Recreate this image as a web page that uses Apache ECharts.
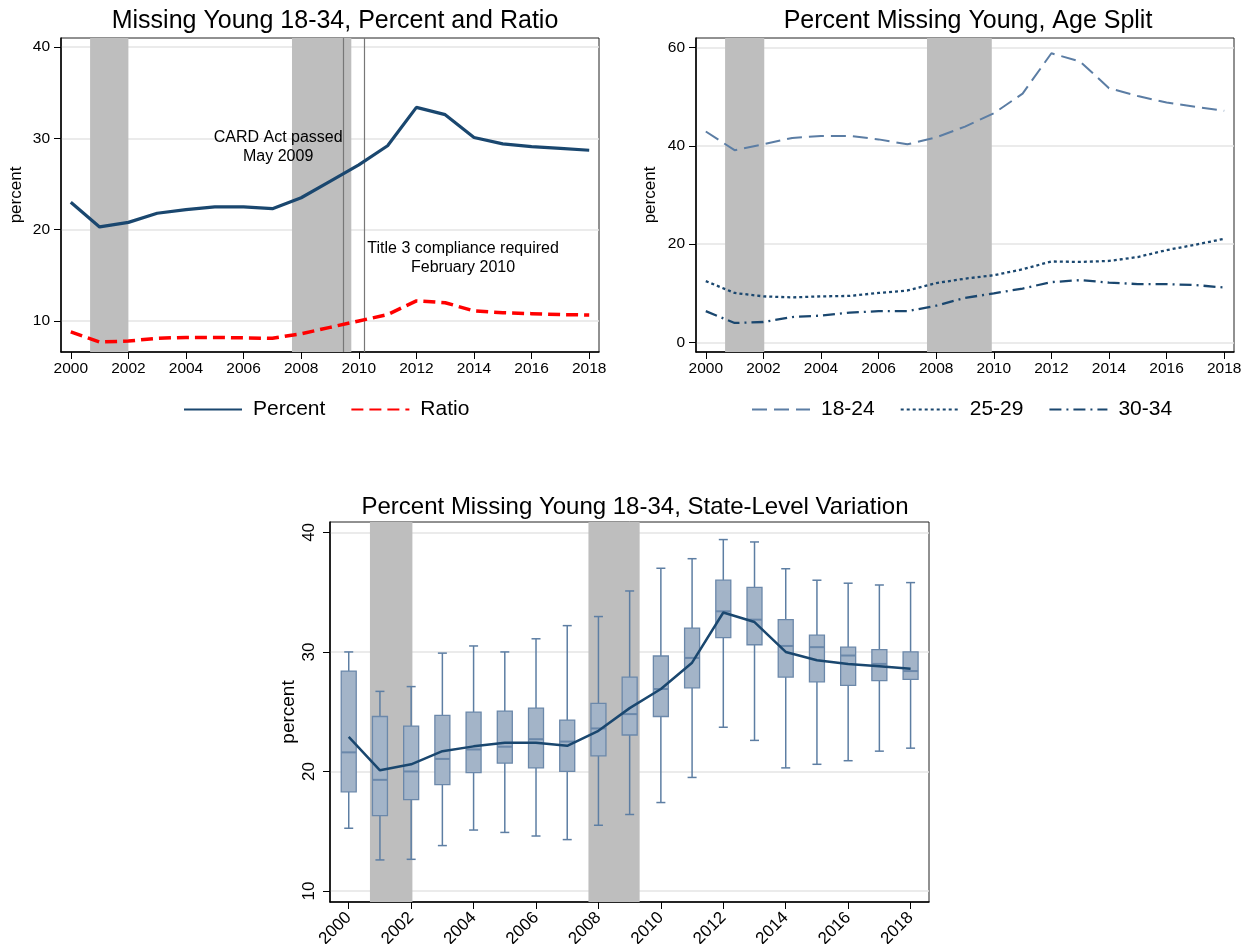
<!DOCTYPE html>
<html>
<head>
<meta charset="utf-8">
<script src="https://cdn.jsdelivr.net/npm/echarts@6/dist/echarts.min.js"></script>
<style>
html,body{margin:0;padding:0;background:#fff;}
#c{width:1251px;height:944px;}
</style>
</head>
<body>
<div id="c"></div>
<script>
// ---------- data ----------
const years = [2000,2001,2002,2003,2004,2005,2006,2007,2008,2009,2010,2011,2012,2013,2014,2015,2016,2017,2018];
const xTickYears = [2000,2002,2004,2006,2008,2010,2012,2014,2016,2018];

const percent = [23.0,20.3,20.8,21.8,22.2,22.5,22.5,22.3,23.5,25.3,27.1,29.2,33.4,32.6,30.1,29.4,29.1,28.9,28.7];
const ratio   = [8.8,7.7,7.8,8.1,8.2,8.2,8.15,8.1,8.6,9.3,10.0,10.7,12.2,12.0,11.1,10.9,10.8,10.7,10.65];

const age1824 = [42.9,39.1,40.3,41.6,42.0,42.0,41.3,40.3,41.7,43.9,46.6,50.6,58.8,57.1,51.7,50.1,48.8,47.9,47.1];
const age2529 = [12.5,10.1,9.4,9.2,9.4,9.5,10.1,10.6,12.1,13.0,13.7,14.9,16.5,16.4,16.6,17.4,18.8,19.9,21.1];
const age3034 = [6.4,4.0,4.2,5.2,5.5,6.1,6.4,6.4,7.5,9.1,10.0,11.0,12.3,12.7,12.2,11.9,11.9,11.7,11.2];

const boxMin = [15.25,12.6,12.65,13.8,15.1,14.9,14.6,14.3,15.5,16.4,17.4,19.5,23.7,22.6,20.3,20.6,20.9,21.7,21.95];
const boxQ1  = [18.3,16.3,17.65,18.9,19.9,20.7,20.3,20.0,21.3,23.05,24.6,27.0,31.2,30.6,27.9,27.5,27.2,27.6,27.7];
const boxMed = [21.6,19.3,20.0,21.05,21.84,22.07,22.7,22.5,23.6,24.8,26.9,29.5,33.4,32.7,30.5,30.4,29.7,29.0,28.4];
const boxQ3  = [28.4,24.6,23.8,24.7,24.97,25.05,25.3,24.3,25.7,27.9,29.66,32.0,36.0,35.4,32.7,31.4,30.4,30.2,30.0];
const boxMax = [30.0,26.7,27.1,29.9,30.5,30.0,31.1,32.2,32.96,35.1,37.0,37.8,39.4,39.2,36.96,36.0,35.75,35.6,35.8];
const stateMean = [22.9,20.1,20.6,21.7,22.1,22.4,22.4,22.15,23.4,25.3,26.9,29.1,33.3,32.5,30.0,29.3,29.0,28.8,28.6];

const yTicks1 = [10,20,30,40];
const yTicks2 = [0,20,40,60];
const yTicks3 = [10,20,30,40];

const recessions1 = [[2000.67,2002.0],[2007.68,2009.74]];
const recessions2 = [[2000.67,2002.03],[2007.68,2009.93]];
const recessions3 = [[2000.68,2002.04],[2007.68,2009.32]];
const eventLines = [2009.45,2010.18];
const annotations = [
  {text:'CARD Act passed\nMay 2009', x:2007.2, y:29.0},
  {text:'Title 3 compliance required\nFebruary 2010', x:2013.62, y:16.9}
];

// ---------- styles ----------
const FONT = 'Liberation Sans, Arial, sans-serif';
const NAVY = '#1a476f';
const SHADE = '#bebebe';
const GRIDC = '#e4e4e4';

function pairs(arr){ return years.map((y,i)=>[y, arr[i]]); }

function xAxisDef(gi, min, max, fs, rot, margin){
  return {
    type:'value', gridIndex:gi, min:min, max:max,
    axisLine:{show:true, onZero:false, lineStyle:{color:'#000', width:1.5}},
    axisTick:{show:true, length:7, customValues:xTickYears, lineStyle:{color:'#000', width:1}},
    axisLabel:{customValues:xTickYears, fontFamily:FONT, fontSize:fs, color:'#000', rotate:rot, margin:margin,
               formatter:v=>String(Math.round(v))},
    splitLine:{show:false}
  };
}
function yAxisDef(gi, min, max, ticks, fs, rot, margin, nameGap, nameSize){
  return {
    type:'value', gridIndex:gi, min:min, max:max,
    name:'percent', nameLocation:'middle', nameGap:nameGap, nameRotate:90,
    nameTextStyle:{fontFamily:FONT, fontSize:nameSize, color:'#000'},
    axisLine:{show:true, onZero:false, lineStyle:{color:'#000', width:1.5}},
    axisTick:{show:true, length:7, customValues:ticks, lineStyle:{color:'#000', width:1}},
    axisLabel:{customValues:ticks, fontFamily:FONT, fontSize:fs, color:'#000', rotate:rot, margin:margin},
    splitLine:{show:true, lineStyle:{color:GRIDC, width:1.5}}
  };
}
function shadeSeries(xi, recs){
  return {
    type:'line', xAxisIndex:xi, yAxisIndex:xi, data:[], silent:true, z:1,
    markArea:{silent:true, itemStyle:{color:SHADE, opacity:1},
      data: recs.map(r=>[{xAxis:r[0]},{xAxis:r[1]}])}
  };
}

// box plot via custom series (through axis coordinate system)
const boxData = years.map((y,i)=>[y, boxMin[i], boxQ1[i], boxMed[i], boxQ3[i], boxMax[i]]);
function renderBox(params, api){
  const x = api.value(0);
  const pMin = api.coord([x, api.value(1)]);
  const pQ1  = api.coord([x, api.value(2)]);
  const pMed = api.coord([x, api.value(3)]);
  const pQ3  = api.coord([x, api.value(4)]);
  const pMax = api.coord([x, api.value(5)]);
  const cx = pMed[0];
  const hw = 7.5, cw = 4.5;
  const lc = '#5d7ea3';
  return {
    type:'group',
    children:[
      {type:'line', shape:{x1:cx,y1:pMax[1],x2:cx,y2:pQ3[1]}, style:{stroke:lc, lineWidth:1.5}},
      {type:'line', shape:{x1:cx,y1:pQ1[1],x2:cx,y2:pMin[1]}, style:{stroke:lc, lineWidth:1.5}},
      {type:'line', shape:{x1:cx-cw,y1:pMax[1],x2:cx+cw,y2:pMax[1]}, style:{stroke:lc, lineWidth:1.5}},
      {type:'line', shape:{x1:cx-cw,y1:pMin[1],x2:cx+cw,y2:pMin[1]}, style:{stroke:lc, lineWidth:1.5}},
      {type:'rect', shape:{x:cx-hw, y:pQ3[1], width:2*hw, height:pQ1[1]-pQ3[1]},
       style:{fill:'#a3b4c8', stroke:'#6b88aa', lineWidth:1.3}},
      {type:'line', shape:{x1:cx-hw,y1:pMed[1],x2:cx+hw,y2:pMed[1]}, style:{stroke:'#6b88aa', lineWidth:2}}
    ]
  };
}

const legendCommon = {
  itemWidth:58, itemHeight:22, itemGap:25,
  itemStyle:{opacity:0},
  textStyle:{fontFamily:FONT, fontSize:21, color:'#000', padding:[0,0,0,6]}
};

const option = {
  animation:false,
  backgroundColor:'#fff',
  textStyle:{fontFamily:FONT},
  title:[
    {text:'Missing Young 18-34, Percent and Ratio', left:330, top:4, textAlign:'center',
     textStyle:{fontFamily:FONT, fontSize:25, fontWeight:'normal', color:'#000'}},
    {text:'Percent Missing Young, Age Split', left:963, top:4, textAlign:'center',
     textStyle:{fontFamily:FONT, fontSize:25, fontWeight:'normal', color:'#000'}},
    {text:'Percent Missing Young 18-34, State-Level Variation', left:630, top:490, textAlign:'center',
     textStyle:{fontFamily:FONT, fontSize:24, fontWeight:'normal', color:'#000'}}
  ],
  legend:[
    Object.assign({data:['Percent','Ratio'], left:178, top:394}, legendCommon),
    Object.assign({data:['18-24','25-29','30-34'], left:746, top:394}, legendCommon)
  ],
  grid:[
    {left:61, top:38, width:538, height:314, show:true, borderColor:'#222', borderWidth:1, backgroundColor:'#fff', containLabel:false, outerBoundsMode:'none'},
    {left:696, top:38, width:538, height:314, show:true, borderColor:'#222', borderWidth:1, backgroundColor:'#fff', containLabel:false, outerBoundsMode:'none'},
    {left:330, top:522, width:599, height:380, show:true, borderColor:'#222', borderWidth:1, backgroundColor:'#fff', containLabel:false, outerBoundsMode:'none'}
  ],
  xAxis:[
    xAxisDef(0, 1999.66, 2018.34, 15.5, 0, 9),
    xAxisDef(1, 1999.66, 2018.34, 15.5, 0, 9),
    xAxisDef(2, 1999.40, 2018.59, 17, 45, 13)
  ],
  yAxis:[
    yAxisDef(0, 6.6, 41, yTicks1, 15.5, 0, 11, 36, 17),
    yAxisDef(1, -1.9, 61.9, yTicks2, 15.5, 0, 11, 37, 17),
    yAxisDef(2, 9.08, 40.87, yTicks3, 17, 90, 12, 32, 19)
  ],
  series:[
    shadeSeries(0, recessions1),
    shadeSeries(1, recessions2),
    shadeSeries(2, recessions3),
    {
      type:'line', xAxisIndex:0, yAxisIndex:0, data:[], silent:true, z:4,
      markLine:{silent:true, symbol:['none','none'], label:{show:false},
        lineStyle:{color:'#777', width:1.2, type:'solid'},
        data: eventLines.map(v=>({xAxis:v}))},
      markPoint:{silent:true, symbol:'rect', symbolSize:0,
        label:{show:true, position:'inside', fontFamily:FONT, fontSize:16, color:'#000', lineHeight:19, align:'center', verticalAlign:'middle',
          formatter:p=>p.name},
        data: annotations.map(a=>({name:a.text, coord:[a.x,a.y]}))}
    },
    {name:'Percent', type:'line', xAxisIndex:0, yAxisIndex:0, data:pairs(percent), symbol:'none', z:5,
     lineStyle:{color:NAVY, width:3.2}, itemStyle:{color:NAVY}},
    {name:'Ratio', type:'line', xAxisIndex:0, yAxisIndex:0, data:pairs(ratio), symbol:'none', z:5,
     lineStyle:{color:'#ff0000', width:3.5, type:[12,6]}, itemStyle:{color:'#ff0000'}},
    {name:'18-24', type:'line', xAxisIndex:1, yAxisIndex:1, data:pairs(age1824), symbol:'none', z:5,
     lineStyle:{color:'#5b7da4', width:2, type:[15,7]}, itemStyle:{color:'#5b7da4'}},
    {name:'25-29', type:'line', xAxisIndex:1, yAxisIndex:1, data:pairs(age2529), symbol:'none', z:5,
     lineStyle:{color:NAVY, width:2.3, type:[3,3]}, itemStyle:{color:NAVY}},
    {name:'30-34', type:'line', xAxisIndex:1, yAxisIndex:1, data:pairs(age3034), symbol:'none', z:5,
     lineStyle:{color:NAVY, width:2.3, type:[12,5,2,5]}, itemStyle:{color:NAVY}},
    {type:'custom', xAxisIndex:2, yAxisIndex:2, data:boxData, renderItem:renderBox, z:4,
     encode:{x:0, y:[1,2,3,4,5]}, silent:true},
    {type:'line', xAxisIndex:2, yAxisIndex:2, data:pairs(stateMean), symbol:'none', z:6, silent:true,
     lineStyle:{color:NAVY, width:2.5}}
  ]
};

const chart = echarts.init(document.getElementById('c'), null, {renderer:'canvas'});
chart.setOption(option);
</script>
</body>
</html>
